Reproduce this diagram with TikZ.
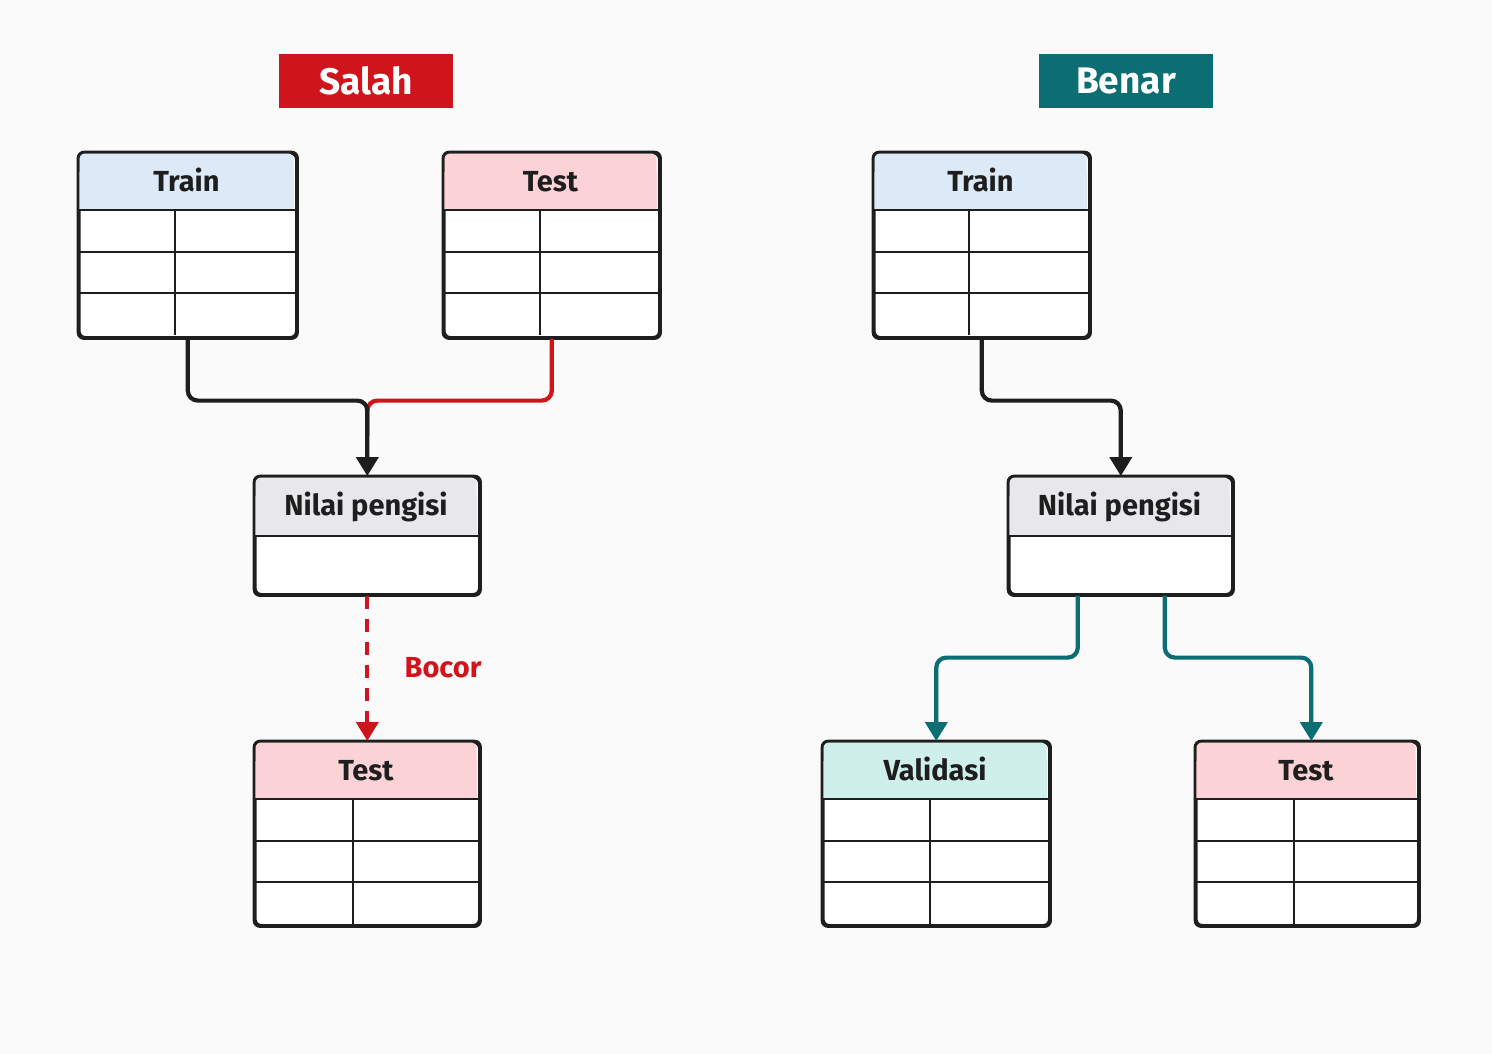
\documentclass[tikz,border=0pt]{standalone}
\usepackage{fontspec}
\setmainfont{Fira Sans}
\usetikzlibrary{arrows.meta,calc}
\definecolor{salahred}{HTML}{D0141C}
\definecolor{benarteal}{HTML}{0B6E73}
\definecolor{hdrblue}{HTML}{DCEAF8}
\definecolor{hdrpink}{HTML}{FBD3D7}
\definecolor{hdrgrey}{HTML}{E8E8EC}
\definecolor{hdrteal}{HTML}{CFEFEA}
\definecolor{linedark}{HTML}{1E1E1E}
\definecolor{bgcol}{HTML}{FAFAFA}
\tikzset{
  boxnode/.style={draw=linedark, line width=2.6pt, fill=white, rounded corners=6pt, inner sep=0pt},
  boxoutline/.style={draw=linedark, line width=2.6pt, rounded corners=6pt},
  gridline/.style={draw=linedark, line width=2pt},
  hdrtext/.style={font=\bfseries\fontsize{29}{32}\selectfont, text=linedark, inner sep=0pt, anchor=base},
  banner/.style={minimum width=174pt, minimum height=54pt, inner sep=0pt, font=\bfseries\fontsize{37}{40}\selectfont, text=white},
  conn/.style={line width=4.2pt, rounded corners=10pt},
  tip/.style={-{Triangle[length=19pt,width=22pt]}}
}
% #1 name, #2 x, #3 y, #4 w, #5 h, #6 header h, #7 fill, #8 text
\newcommand\headbox[8]{%
  \node[boxnode, minimum width=#4pt, minimum height=#5pt, anchor=north west] (#1) at (#2,#3) {};
  \fill[#7, rounded corners=6pt] (#2+1.3,#3+1.3) rectangle (#2+#4-1.3,#3+#6);
  \fill[#7] (#2+1.3,#3+20) rectangle (#2+#4-1.3,#3+#6);
  \draw[gridline] (#2,#3+#6) -- (#2+#4,#3+#6);
  \node[hdrtext] (#1-t) at (#2+#4/2,#3+39) {#8};
}
% #1 x, #2 y, #3 w, #4 divider x
\newcommand\tablegrid[4]{%
  \draw[gridline] (#1,#2+100) -- (#1+#3,#2+100);
  \draw[gridline] (#1,#2+141) -- (#1+#3,#2+141);
  \draw[gridline] (#4,#2+58) -- (#4,#2+183);
}
\begin{document}
\begin{tikzpicture}[x=1pt,y=-1pt]
\useasboundingbox (0,0) rectangle (1492,1054);
\fill[bgcol] (0,0) rectangle (1492,1054);

% banners
\node[banner, fill=salahred] (salah) at (366,81) {Salah};
\node[banner, fill=benarteal] (benar) at (1126,81) {Benar};

% left side
\headbox{trainL}{78}{152}{217}{184}{58}{hdrblue}{Train}
\tablegrid{78}{152}{217}{175}
\draw[boxoutline] (trainL.north west) rectangle (trainL.south east);

\headbox{testL}{443}{152}{215}{184}{58}{hdrpink}{Test}
\tablegrid{443}{152}{215}{540}
\draw[boxoutline] (testL.north west) rectangle (testL.south east);

\headbox{nilaiL}{254}{476}{224}{117}{60}{hdrgrey}{Nilai pengisi}
\draw[boxoutline] (nilaiL.north west) rectangle (nilaiL.south east);

\headbox{testB}{254}{741}{224}{183}{58}{hdrpink}{Test}
\tablegrid{254}{741}{224}{353}
\draw[boxoutline] (testB.north west) rectangle (testB.south east);

% right side
\headbox{trainR}{873}{152}{215}{184}{58}{hdrblue}{Train}
\tablegrid{873}{152}{215}{969}
\draw[boxoutline] (trainR.north west) rectangle (trainR.south east);

\headbox{nilaiR}{1008}{476}{223}{117}{60}{hdrgrey}{Nilai pengisi}
\draw[boxoutline] (nilaiR.north west) rectangle (nilaiR.south east);

\headbox{valid}{822}{741}{226}{183}{58}{hdrteal}{Validasi}
\tablegrid{822}{741}{226}{930}
\draw[boxoutline] (valid.north west) rectangle (valid.south east);

\headbox{testR}{1195}{741}{222}{183}{58}{hdrpink}{Test}
\tablegrid{1195}{741}{222}{1294}
\draw[boxoutline] (testR.north west) rectangle (testR.south east);

% connectors left
\draw[conn, salahred] (testL.south) -- ++(0,62) -| ($(nilaiL.north)+(0,-40)$);
\draw[conn, linedark, tip] (trainL.south) -- ++(0,62) -| (nilaiL.north);
\draw[line width=4.2pt, salahred, dash pattern=on 13pt off 10pt, tip] (nilaiL.south) -- (testB.north);
\node[font=\bfseries\fontsize{29}{32}\selectfont, text=salahred, inner sep=0pt] (bocor) at (443,668) {Bocor};

% connectors right
\draw[conn, linedark, tip] (trainR.south) -- ++(0,62) -| (nilaiR.north);
\draw[conn, benarteal, tip] ($(nilaiR.south)+(-43,0)$) -- ++(0,62) -| (valid.north);
\draw[conn, benarteal, tip] ($(nilaiR.south)+(44,0)$) -- ++(0,62) -| ($(testR.north)+(4,0)$);
\end{tikzpicture}
\end{document}
